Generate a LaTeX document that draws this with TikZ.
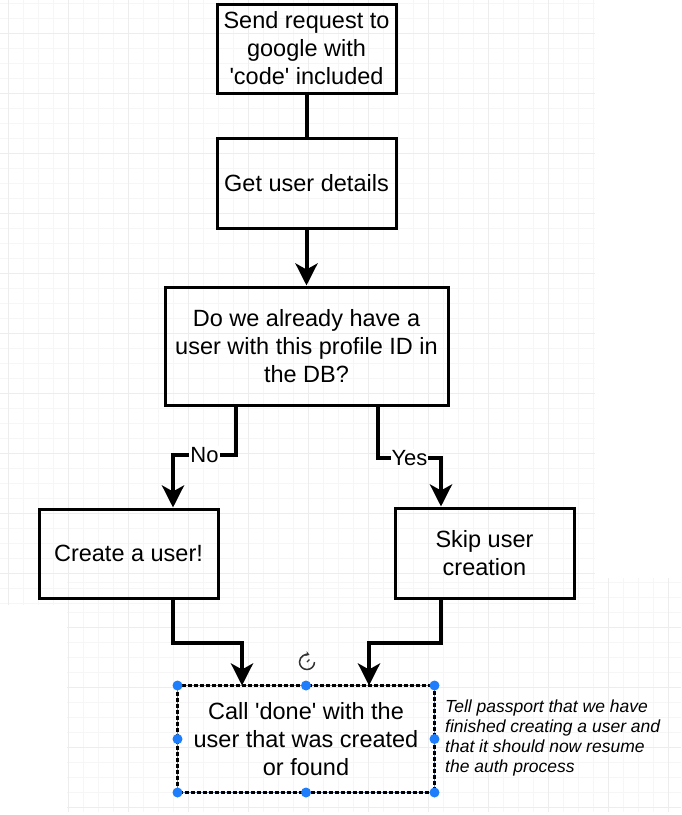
\documentclass[tikz,border=0pt]{standalone}
\usepackage{fontspec}
\setmainfont{Liberation Sans}
\usetikzlibrary{arrows.meta,calc}
\definecolor{handle}{RGB}{30,125,250}
\definecolor{gminor}{RGB}{246,246,246}
\definecolor{gmajor}{RGB}{237,237,237}
\definecolor{selline}{RGB}{110,140,190}
\begin{document}
\begin{tikzpicture}[x=1pt,y=-1pt,
  box/.style={draw=black,line width=3pt,align=center,inner sep=0pt,
    font=\fontsize{23.5}{28}\selectfont},
  conn/.style={line width=4pt,line join=miter},
  arr/.style={-{Stealth[length=22pt,width=22pt,inset=6pt]}},
  lbl/.style={fill=white,inner sep=1pt,font=\fontsize{22}{26}\selectfont},
  hdl/.style={fill=handle,draw=none,circle,minimum size=10pt,inner sep=0pt},
  gmin/.style={draw=gminor,line width=0.8pt},
  gmaj/.style={draw=gmajor,line width=0.9pt}
]
\fill[white] (0,0) rectangle (681,815);
\useasboundingbox (0,0) rectangle (681,815);
% background grid, upper region
\foreach \x in {8,23,...,593} \draw[gmin] (\x,0) -- (\x,605);
\foreach \y in {3,18,...,603} \draw[gmin] (0,\y) -- (595,\y);
\foreach \x in {8,68,...,593} \draw[gmaj] (\x,0) -- (\x,605);
\foreach \y in {33,93,...,603} \draw[gmaj] (0,\y) -- (595,\y);
% background grid, lower region
\foreach \x in {68,83,...,681} \draw[gmin] (\x,578) -- (\x,812);
\foreach \y in {582,597,...,812} \draw[gmin] (67,\y) -- (681,\y);
\foreach \x in {68,128,...,681} \draw[gmaj] (\x,578) -- (\x,812);
\foreach \y in {627,687,...,812} \draw[gmaj] (67,\y) -- (681,\y);

% boxes
\node[box,minimum width=179pt,minimum height=89pt] (b1) at (306.5,48.5)
  {Send request to\\google with\\\textquotesingle code\textquotesingle{} included};
\node[box,minimum width=179pt,minimum height=90pt] (b2) at (306.5,183)
  {Get user details};
\node[box,minimum width=283pt,minimum height=118pt] (b3) at (306.5,346)
  {Do we already have a\\user with this profile ID in\\the DB?};
\node[box,minimum width=179pt,minimum height=89pt] (b4) at (128.5,553.5)
  {Create a user!};
\node[box,minimum width=179pt,minimum height=90pt] (b5) at (484.5,553)
  {Skip user\\creation};
\node[box,draw=none,minimum width=254pt,minimum height=104pt] (b6) at (306,739)
  {Call \textquotesingle done\textquotesingle{} with the\\user that was created\\or found};

% selection frame of the last box
\draw[selline,line width=1.2pt] (b6.north west) rectangle (b6.south east);
\draw[black,line width=2.2pt,dash pattern=on 4pt off 2pt] (b6.north west) rectangle (b6.south east);

% helper coordinates
\coordinate (xa) at (236,0);
\coordinate (xb) at (173,0);
\coordinate (xc) at (378,0);
\coordinate (xd) at (441,0);
\coordinate (xe) at (242,0);
\coordinate (xf) at (369,0);
\coordinate (ya) at (0,455);
\coordinate (yb) at (0,458);
\coordinate (yc) at (0,643);

% connectors
\draw[conn] (b1.south) -- (b2.north);
\draw[conn,arr] (b2.south) -- (b3.north);
\draw[conn,arr] (b3.south -| xa) -- (xa |- ya) -- node[lbl] {No} (xb |- ya) -- (b4.north -| xb);
\draw[conn,arr] (b3.south -| xc) -- (xc |- yb) -- node[lbl] {Yes} (xd |- yb) -- (b5.north -| xd);
\draw[conn,arr] (b4.south -| xb) -- (xb |- yc) -- (xe |- yc) -- (b6.north -| xe);
\draw[conn,arr] (b5.south -| xd) -- (xd |- yc) -- (xf |- yc) -- (b6.north -| xf);

% selection handles
\foreach \a in {north west,north,north east,east,south east,south,south west,west}
  \node[hdl] at (b6.\a) {};

% rotate icon
\coordinate (rot) at (307,662);
\draw[black!80,line width=1.5pt,-{Stealth[length=4pt,width=5pt]}]
  ($(rot)+(7.5,0)$) arc[start angle=0,end angle=-290,radius=7.5pt];
\draw[black!80,line width=1.2pt] (rot) -- ++(2.5,-2.5);

% note
\node[anchor=north west,align=left,inner sep=0pt,
  font=\fontsize{17.5}{20}\selectfont\itshape] (note) at (445,700)
  {Tell passport that we have\\finished creating a user and\\that it should now resume\\the auth process};
\end{tikzpicture}
\end{document}
